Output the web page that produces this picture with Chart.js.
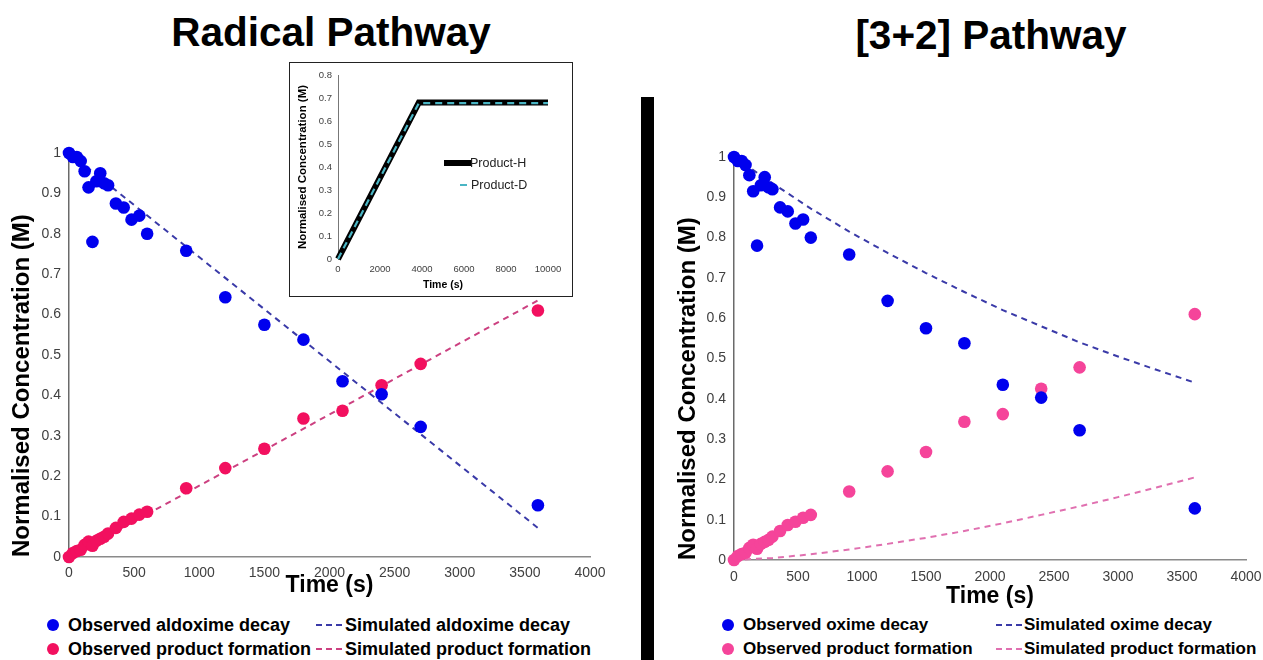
<!DOCTYPE html>
<html><head><meta charset="utf-8">
<script src="https://cdn.jsdelivr.net/npm/chart.js@4.4.0/dist/chart.umd.min.js"></script>
<style>
body{margin:0;width:1263px;height:660px;background:#fff;position:relative;overflow:hidden;font-family:"Liberation Sans",Arial,sans-serif;color:#000;}
.t{position:absolute;font-weight:bold;white-space:nowrap;}
canvas{position:absolute;}
.lg{position:absolute;font-weight:bold;white-space:nowrap;line-height:20px;}
.dot{position:absolute;border-radius:50%;}
svg{position:absolute;}
</style></head><body>
<div class="t" style="left:0;width:662px;text-align:center;top:9px;font-size:40.5px;line-height:46px">Radical Pathway</div>
<div class="t" style="left:720px;width:542px;text-align:center;top:12px;font-size:40.5px;line-height:46px">[3+2] Pathway</div>
<div style="position:absolute;left:641px;top:97px;width:13px;height:563px;background:#000"></div>

<canvas id="left" width="620" height="470" style="left:0;top:140px"></canvas>
<canvas id="right" width="603" height="470" style="left:660px;top:140px"></canvas>

<div style="position:absolute;left:289px;top:62px;width:284px;height:235px;border:1.5px solid #222;box-sizing:border-box;background:#fff"></div>
<canvas id="inset" width="280" height="231" style="left:291px;top:64px"></canvas>
<svg style="left:444px;top:158px" width="28" height="10"><line x1="1" y1="5" x2="27" y2="5" stroke="#000" stroke-width="6" stroke-linecap="round"/></svg>
<div class="lg" style="left:470px;top:153px;font-weight:normal;font-size:12.5px;color:#222">Product-H</div>
<svg style="left:458px;top:180px" width="12" height="10"><line x1="2" y1="5" x2="9" y2="5" stroke="#4ab5c4" stroke-width="2"/></svg>
<div class="lg" style="left:471px;top:175px;font-weight:normal;font-size:12.5px;color:#222">Product-D</div>

<!-- left legend -->
<div class="dot" style="left:47px;top:619px;width:12px;height:12px;background:#0000ee"></div>
<div class="lg" style="left:68px;top:615px;font-size:18px">Observed aldoxime decay</div>
<svg style="left:316px;top:620px" width="28" height="10"><line x1="0" y1="5" x2="28" y2="5" stroke="#3a3aa8" stroke-width="2" stroke-dasharray="6,4"/></svg>
<div class="lg" style="left:345px;top:615px;font-size:18px">Simulated aldoxime decay</div>
<div class="dot" style="left:47px;top:643px;width:12px;height:12px;background:#f2105f"></div>
<div class="lg" style="left:68px;top:639px;font-size:18px">Observed product formation</div>
<svg style="left:316px;top:644px" width="28" height="10"><line x1="0" y1="5" x2="28" y2="5" stroke="#cc4080" stroke-width="2" stroke-dasharray="6,4"/></svg>
<div class="lg" style="left:345px;top:639px;font-size:18px">Simulated product formation</div>

<!-- right legend -->
<div class="dot" style="left:722px;top:619px;width:12px;height:12px;background:#0000ee"></div>
<div class="lg" style="left:743px;top:615px;font-size:17px">Observed oxime decay</div>
<svg style="left:996px;top:620px" width="27" height="10"><line x1="0" y1="5" x2="27" y2="5" stroke="#3a3aa8" stroke-width="2" stroke-dasharray="6,4"/></svg>
<div class="lg" style="left:1024px;top:615px;font-size:17px">Simulated oxime decay</div>
<div class="dot" style="left:722px;top:643px;width:12px;height:12px;background:#f5449a"></div>
<div class="lg" style="left:743px;top:639px;font-size:17px">Observed product formation</div>
<svg style="left:996px;top:644px" width="27" height="10"><line x1="0" y1="5" x2="27" y2="5" stroke="#e070b0" stroke-width="2" stroke-dasharray="6,4"/></svg>
<div class="lg" style="left:1024px;top:639px;font-size:17px">Simulated product formation</div>

<script>
// ---- data ----
const times = [0,30,60,90,120,150,180,210,240,270,300,360,420,480,540,600,900,1200,1500,1800,2100,2400,2700,3600];
const oximeDecay = [1.0,0.99,0.99,0.98,0.955,0.915,0.78,0.93,0.95,0.925,0.92,0.875,0.865,0.835,0.845,0.80,0.758,0.643,0.575,0.538,0.435,0.403,0.322,0.128];
const productFormation = [0,0.01,0.015,0.018,0.03,0.038,0.028,0.04,0.045,0.05,0.058,0.072,0.087,0.095,0.105,0.112,0.17,0.22,0.268,0.343,0.362,0.425,0.478,0.61];

const radicalSimTimes = [0,3600];
const radicalSimDecay = [1.0,0.072];
const radicalSimProduct = [0,0.635];

const cycloSimTimes = [0,300,600,900,1200,1500,1800,2100,2400,2700,3000,3300,3600];
const cycloSimDecay = [1.0,0.935,0.872,0.815,0.762,0.712,0.665,0.62,0.58,0.54,0.505,0.472,0.44];
const cycloSimProduct = [0,0.005,0.014,0.026,0.04,0.055,0.072,0.091,0.112,0.133,0.156,0.18,0.205];

const insetTimes = [0,3850,10000];
const productH = [0,0.68,0.68];
const productD = [0,0.678,0.678];

const xTickMax = 4000, xTickStep = 500;
const yTickMax = 1, yTickStep = 0.1;
const insetXMax = 10000, insetXStep = 2000;
const insetYMax = 0.8, insetYStep = 0.1;

function pts(xs, ys){ return xs.map((x,i)=>({x:x,y:ys[i]})); }
const fmtX = v => String(v);
const fmtY = v => String(Math.round(v*10)/10);

function build(id, cfg){
  const datasets = [
    {data:pts(times,cfg.decay), backgroundColor:cfg.dotBlue, pointRadius:6.3, pointBorderWidth:0, showLine:false, clip:false, order:0},
    {data:pts(times,cfg.product), backgroundColor:cfg.dotPink, pointRadius:6.3, pointBorderWidth:0, showLine:false, clip:false, order:0},
    {data:pts(cfg.simT,cfg.simDecay), borderColor:cfg.lineBlue, borderWidth:2, borderDash:[6,5], pointRadius:0, showLine:true, fill:false, clip:false, order:1},
    {data:pts(cfg.simT,cfg.simProduct), borderColor:cfg.linePink, borderWidth:2, borderDash:[6,5], pointRadius:0, showLine:true, fill:false, clip:false, order:1}
  ];
  new Chart(document.getElementById(id), {
    type:'scatter',
    data:{datasets:datasets},
    options:{
      responsive:false, animation:false, events:[],
      layout:{padding:{top:cfg.padTop, right:cfg.padRight, left:0, bottom:0}},
      plugins:{legend:{display:false}, tooltip:{enabled:false}},
      scales:{
        x:{type:'linear', min:0, max:xTickMax,
           ticks:{stepSize:xTickStep, padding:cfg.xTickPad, color:'#404040', font:{family:'Liberation Sans', size:14}, maxRotation:0, callback:fmtX},
           grid:{display:false, drawTicks:false}, border:{display:true, color:'#8a8a8a', width:1.5},
           title:{display:true, text:'Time (s)', color:'#000', font:{family:'Liberation Sans', size:23, weight:'bold'}, padding:{top:0,bottom:cfg.xTitlePad}},
           afterFit:s=>{s.height=cfg.xAxisH; s.paddingLeft=0; s.paddingRight=0;}},
        y:{type:'linear', min:0, max:yTickMax,
           ticks:{stepSize:yTickStep, padding:8, color:'#404040', font:{family:'Liberation Sans', size:14}, callback:fmtY},
           grid:{display:false, drawTicks:false}, border:{display:true, color:'#6a6a6a', width:1.5},
           title:{display:true, text:'Normalised Concentration (M)', align:'start', color:'#000', font:{family:'Liberation Sans', size:24, weight:'bold'}, padding:{top:cfg.yTitlePad,bottom:0}},
           afterFit:s=>{s.width=cfg.yAxisW; s.paddingTop=0; s.paddingBottom=0;}}
      }
    }
  });
}

build('left', {decay:oximeDecay, product:productFormation, simT:radicalSimTimes, simDecay:radicalSimDecay, simProduct:radicalSimProduct,
  dotBlue:'#0000ee', dotPink:'#f2105f', lineBlue:'#3a3aa8', linePink:'#cc4080',
  padTop:13, padRight:30, xAxisH:53, yAxisW:69, xTickPad:8, xTitlePad:11, yTitlePad:8});
build('right', {decay:oximeDecay, product:productFormation, simT:cycloSimTimes, simDecay:cycloSimDecay, simProduct:cycloSimProduct,
  dotBlue:'#0000ee', dotPink:'#f5449a', lineBlue:'#3a3aa8', linePink:'#e070b0',
  padTop:17, padRight:17, xAxisH:50, yAxisW:74, xTickPad:9, xTitlePad:0, yTitlePad:14});

new Chart(document.getElementById('inset'), {
  type:'scatter',
  data:{datasets:[
    {data:pts(insetTimes,productD), borderColor:'#4ab5c4', borderWidth:2.2, borderDash:[7,5], pointRadius:0, showLine:true, fill:false, clip:false, order:0},
    {data:pts(insetTimes,productH), borderColor:'#000', borderWidth:6, pointRadius:0, showLine:true, fill:false, clip:false, order:1}
  ]},
  options:{
    responsive:false, animation:false, events:[],
    layout:{padding:{top:11, right:23, left:0, bottom:0}},
    plugins:{legend:{display:false}, tooltip:{enabled:false}},
    scales:{
      x:{type:'linear', min:0, max:insetXMax,
         ticks:{stepSize:insetXStep, padding:5, color:'#404040', font:{family:'Liberation Sans', size:9.5}, maxRotation:0, callback:fmtX},
         grid:{display:false, drawTicks:false}, border:{display:false},
         title:{display:true, text:'Time (s)', color:'#000', font:{family:'Liberation Sans', size:10.5, weight:'bold'}, padding:{top:0,bottom:4}},
         afterFit:s=>{s.height=36; s.paddingLeft=0; s.paddingRight=0;}},
      y:{type:'linear', min:0, max:insetYMax,
         ticks:{stepSize:insetYStep, padding:6, color:'#404040', font:{family:'Liberation Sans', size:9.5}, callback:fmtY},
         grid:{display:false, drawTicks:false}, border:{display:true, color:'#777', width:1},
         title:{display:true, text:'Normalised Concentration (M)', color:'#000', font:{family:'Liberation Sans', size:11.5, weight:'bold'}, padding:{top:5,bottom:0}},
         afterFit:s=>{s.width=47; s.paddingTop=0; s.paddingBottom=0;}}
    }
  }
});
</script>
</body></html>
